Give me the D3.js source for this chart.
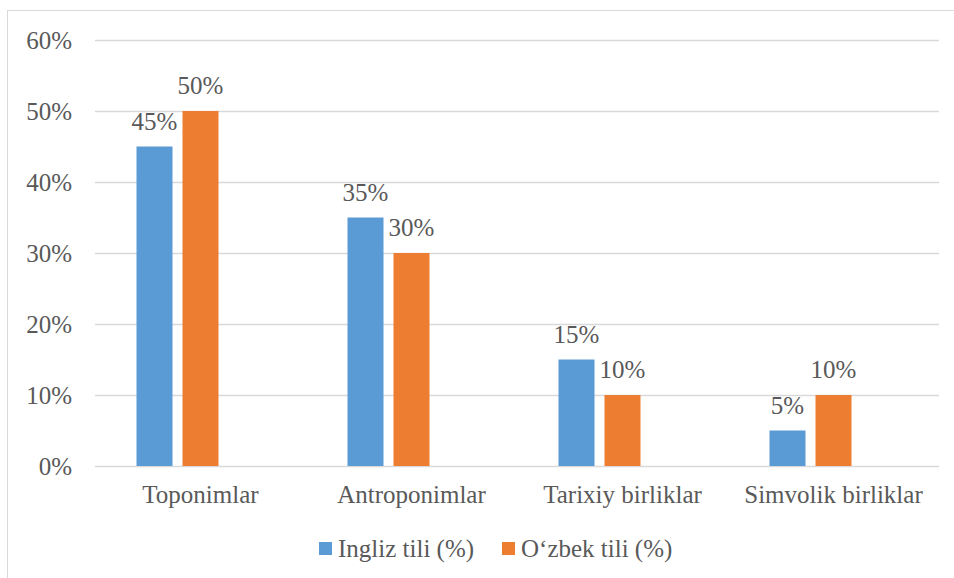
<!DOCTYPE html>
<html>
<head>
<meta charset="utf-8">
<script src="https://cdn.jsdelivr.net/npm/d3@7"></script>
<style>
  body { margin: 0; background: #fff; }
  text { font-family: "Liberation Serif", serif; fill: #595959; }
</style>
</head>
<body>
<svg id="chart" width="954" height="578"></svg>
<script>
// data
var categories = ["Toponimlar", "Antroponimlar", "Tarixiy birliklar", "Simvolik birliklar"];
var seriesNames = ["Ingliz tili (%)", "O\u2018zbek tili (%)"];
var english = [45, 35, 15, 5];
var uzbek = [50, 30, 10, 10];
var yTicks = [0, 10, 20, 30, 40, 50, 60];
var colors = ["#5B9BD5", "#ED7D31"];

var series = [english, uzbek];

var svg = d3.select("#chart");

// chart frame (right and bottom edges fall outside the picture)
svg.append("rect")
  .attr("x", 7.5).attr("y", 10.5)
  .attr("width", 1000).attr("height", 600)
  .attr("fill", "none")
  .attr("stroke", "#d9d9d9");

var plotLeft = 95, plotRight = 939, plotTop = 40, plotBottom = 466;

var x0 = d3.scaleBand().domain(categories).range([plotLeft, plotRight]);
// excel leaves room for a third (empty) series slot in each cluster
var x1 = d3.scaleBand().domain([0, 1, 2]).range([41.5, 169.5]).paddingInner(10 / 46);
var y = d3.scaleLinear().domain([0, 60]).range([plotBottom, plotTop]);

// gridlines
svg.append("g")
  .selectAll("line")
  .data(yTicks)
  .enter()
  .append("line")
  .attr("x1", plotLeft).attr("x2", plotRight)
  .attr("y1", d => Math.round(y(d)) + 0.5)
  .attr("y2", d => Math.round(y(d)) + 0.5)
  .attr("stroke", "#d9d9d9")
  .attr("stroke-width", 1.5);

// y tick labels
svg.append("g")
  .selectAll("text")
  .data(yTicks)
  .enter()
  .append("text")
  .attr("x", 72)
  .attr("y", d => y(d) + 9)
  .attr("text-anchor", "end")
  .style("font-size", "25px")
  .text(d => d + "%");

// bars
series.forEach(function (vals, s) {
  var g = svg.append("g");
  g.selectAll("rect")
    .data(vals)
    .enter()
    .append("rect")
    .attr("x", (d, i) => x0(categories[i]) + x1(s))
    .attr("width", x1.bandwidth())
    .attr("y", d => y(d))
    .attr("height", d => plotBottom - y(d))
    .attr("fill", colors[s]);

  g.selectAll("text")
    .data(vals)
    .enter()
    .append("text")
    .attr("x", (d, i) => x0(categories[i]) + x1(s) + x1.bandwidth() / 2)
    .attr("y", d => y(d) - 17)
    .attr("text-anchor", "middle")
    .style("font-size", "25px")
    .text(d => d + "%");
});

// category labels
svg.append("g")
  .selectAll("text")
  .data(categories)
  .enter()
  .append("text")
  .attr("x", d => x0(d) + x0.bandwidth() / 2)
  .attr("y", 503)
  .attr("text-anchor", "middle")
  .style("font-size", "25px")
  .text(d => d);

// legend
var legendX = [319, 502];
var legend = svg.append("g");
seriesNames.forEach(function (name, s) {
  legend.append("rect")
    .attr("x", legendX[s]).attr("y", 542)
    .attr("width", 13).attr("height", 13)
    .attr("fill", colors[s]);
  legend.append("text")
    .attr("x", legendX[s] + 19).attr("y", 557)
    .style("font-size", "25px")
    .text(name);
});
</script>
</body>
</html>
